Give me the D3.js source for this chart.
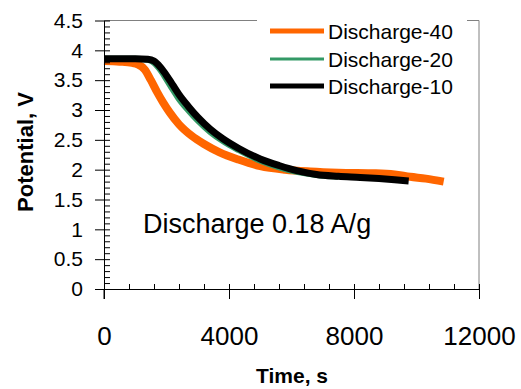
<!DOCTYPE html>
<html>
<head>
<meta charset="utf-8">
<script src="https://cdn.jsdelivr.net/npm/d3@7"></script>
<style>
  body { margin: 0; background: #fff; }
  text { font-family: "Liberation Sans", Arial, sans-serif; fill: #000; }
</style>
</head>
<body>
<div id="chart"></div>
<script>
// series
const time40 = [0, 500, 900, 1100, 1300, 1500, 1700, 1900, 2100, 2400, 2800, 3200, 3700, 4300, 5000, 5800, 6600, 7500, 8700, 9300, 9800, 10300, 10870]
const volt40 = [3.82, 3.81, 3.79, 3.76, 3.68, 3.50, 3.30, 3.12, 2.96, 2.76, 2.57, 2.43, 2.29, 2.17, 2.06, 2.00, 1.97, 1.95, 1.94, 1.92, 1.88, 1.85, 1.80]

const time20 = [0, 500, 1000, 1400, 1600, 1800, 2000, 2200, 2400, 2700, 3000, 3400, 3800, 4300, 5000, 5600, 6200, 6800, 7500]
const volt20 = [3.86, 3.86, 3.86, 3.84, 3.79, 3.67, 3.51, 3.34, 3.18, 2.99, 2.82, 2.63, 2.48, 2.33, 2.15, 2.04, 1.96, 1.91, 1.88]

const time10 = [0, 500, 1000, 1400, 1600, 1800, 2000, 2200, 2400, 2700, 3000, 3400, 3800, 4300, 5000, 5600, 6200, 6800, 7500, 8200, 8800, 9300, 9750]
const volt10 = [3.86, 3.86, 3.86, 3.85, 3.82, 3.72, 3.58, 3.42, 3.26, 3.06, 2.88, 2.68, 2.52, 2.36, 2.18, 2.07, 1.98, 1.92, 1.89, 1.87, 1.85, 1.83, 1.81]

const seriesNames = ['Discharge-40', 'Discharge-20', 'Discharge-10']
const xTicks = [0, 4000, 8000, 12000]
const yTicks = [0, 0.5, 1, 1.5, 2, 2.5, 3, 3.5, 4, 4.5]

const width = 521
const height = 389
const margin = { top: 20.5, left: 104, right: 42, bottom: 100 }

const svg = d3
  .select('#chart')
  .append('svg')
  .attr('width', width)
  .attr('height', height)

const x = d3.scaleLinear().domain([0, 12000]).range([margin.left, width - margin.right])
const y = d3.scaleLinear().domain([0, 4.5]).range([height - margin.bottom, margin.top])

const series = [
  { name: seriesNames[0], t: time40, v: volt40, color: '#ff6600', w: 8, lw: 5 },
  { name: seriesNames[1], t: time20, v: volt20, color: '#339966', w: 6, lw: 3 },
  { name: seriesNames[2], t: time10, v: volt10, color: '#000000', w: 7, lw: 5 }
]

// gray frame on top and right
svg.append('path')
  .attr('d', `M${x(0)},${y(4.5)}H${x(12000)}V${y(0)}`)
  .attr('fill', 'none')
  .attr('stroke', '#808080')
  .attr('stroke-width', 1)

const line = d3.line()
  .x(d => x(d[0]))
  .y(d => y(d[1]))
  .curve(d3.curveMonotoneX)

series.forEach(s => {
  svg.append('path')
    .datum(s.t.map((t, i) => [t, s.v[i]]))
    .attr('d', line)
    .attr('fill', 'none')
    .attr('stroke', s.color)
    .attr('stroke-width', s.w)
    .attr('stroke-linejoin', 'round')
})

// x axis: major ticks outside, minor inside
const xMinor = d3.range(0, 12001, 800)
svg.append('g')
  .attr('transform', `translate(0,${y(0)})`)
  .call(d3.axisTop(x).tickValues(xMinor).tickSize(5).tickFormat(''))
  .call(g => g.select('.domain').remove())

svg.append('g')
  .attr('transform', `translate(0,${y(0)})`)
  .call(d3.axisBottom(x).tickValues(xTicks).tickSize(10).tickSizeOuter(0).tickPadding(28).tickFormat(d3.format('d')))
  .call(g => g.selectAll('text').attr('font-size', 26))

// y axis: major ticks outside, minor inside
const yMinor = d3.range(0, 46).map(d => d / 10)
svg.append('g')
  .attr('transform', `translate(${x(0)},0)`)
  .call(d3.axisRight(y).tickValues(yMinor).tickSize(6).tickFormat(''))
  .call(g => g.select('.domain').remove())

svg.append('g')
  .attr('transform', `translate(${x(0)},0)`)
  .call(d3.axisLeft(y).tickValues(yTicks).tickSize(9).tickSizeOuter(0).tickPadding(12).tickFormat(d => d))
  .call(g => g.selectAll('text').attr('font-size', 21))

svg.append('line')
  .attr('x1', x(0)).attr('x2', x(0))
  .attr('y1', y(0)).attr('y2', y(0) + 10)
  .attr('stroke', '#000')

svg.selectAll('.tick line').attr('stroke', '#000')
svg.selectAll('.domain').attr('stroke', '#000')

// axis titles
svg.append('text')
  .attr('x', 292)
  .attr('y', 383)
  .attr('text-anchor', 'middle')
  .attr('font-size', 21)
  .attr('font-weight', 'bold')
  .text('Time, s')

svg.append('text')
  .attr('transform', 'translate(33,152) rotate(-90)')
  .attr('text-anchor', 'middle')
  .attr('font-size', 22)
  .attr('font-weight', 'bold')
  .text('Potential, V')

svg.append('text')
  .attr('x', 143)
  .attr('y', 233)
  .attr('font-size', 27)
  .text('Discharge 0.18 A/g')

// legend
const legend = svg.append('g')
legend.append('rect')
  .attr('x', 257).attr('y', 14)
  .attr('width', 210).attr('height', 88)
  .attr('fill', '#fff')

const rowY = [31, 59, 86]
series.forEach((s, i) => {
  legend.append('line')
    .attr('x1', 270).attr('x2', 324)
    .attr('y1', rowY[i]).attr('y2', rowY[i])
    .attr('stroke', s.color)
    .attr('stroke-width', s.lw)
  legend.append('text')
    .attr('x', 328)
    .attr('y', rowY[i] + 7.5)
    .attr('font-size', 21)
    .text(s.name)
})
</script>
</body>
</html>
